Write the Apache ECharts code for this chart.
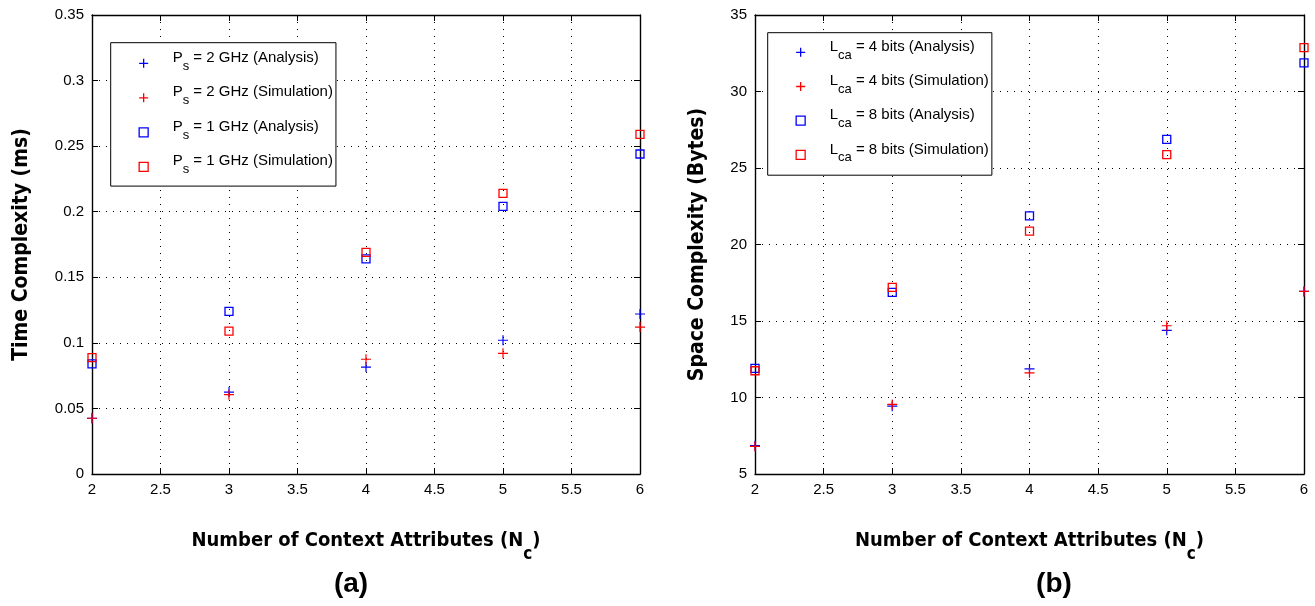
<!DOCTYPE html>
<html>
<head>
<meta charset="utf-8">
<script src="https://cdn.jsdelivr.net/npm/echarts@6/dist/echarts.min.js"></script>
<style>
  html, body { margin: 0; padding: 0; background: #fff; }
  #chart { width: 1315px; height: 606px; }
</style>
</head>
<body>
<div id="chart"></div>
<script>
// Horizontal axis: number of context attributes N_c
const contextAttributes = [2, 3, 4, 5, 6];
const xTicks = [2, 2.5, 3, 3.5, 4, 4.5, 5, 5.5, 6];

// (a) Time complexity in ms
const timeTicks = [0, 0.05, 0.1, 0.15, 0.2, 0.25, 0.3, 0.35];
const time2GhzAnalysis = [0.0425, 0.0625, 0.0815, 0.102, 0.122];
const time2GhzSimulation = [0.0425, 0.0605, 0.0875, 0.092, 0.112];
const time1GhzAnalysis = [0.084, 0.124, 0.164, 0.204, 0.244];
const time1GhzSimulation = [0.0888, 0.109, 0.169, 0.214, 0.259];
const timeNames = [
  'P_s = 2 GHz (Analysis)',
  'P_s = 2 GHz (Simulation)',
  'P_s = 1 GHz (Analysis)',
  'P_s = 1 GHz (Simulation)'
];

// (b) Space complexity in bytes
const spaceTicks = [5, 10, 15, 20, 25, 30, 35];
const space4BitsAnalysis = [6.85, 9.43, 11.87, 14.39, 16.93];
const space4BitsSimulation = [6.8, 9.55, 11.61, 14.69, 16.93];
const space8BitsAnalysis = [11.9, 16.87, 21.87, 26.87, 31.87];
const space8BitsSimulation = [11.75, 17.2, 20.87, 25.87, 32.87];
const spaceNames = [
  'L_ca = 4 bits (Analysis)',
  'L_ca = 4 bits (Simulation)',
  'L_ca = 8 bits (Analysis)',
  'L_ca = 8 bits (Simulation)'
];

const FONT = "'Liberation Sans', Arial, Helvetica, sans-serif";
const NARROW = "'Liberation Sans Narrow', 'DejaVu Sans Condensed', 'Liberation Sans', sans-serif";
const BLUE = '#0000ff';
const RED = '#ff0000';
const PLUS = 'path://M0,5L10,5M5,0L5,10';

function pairs(ys) {
  return contextAttributes.map((x, i) => [x, ys[i]]);
}

function baseAxis(ticks, gridIndex, position, showLabels) {
  return {
    type: 'value',
    gridIndex: gridIndex,
    position: position,
    min: ticks[0],
    max: ticks[ticks.length - 1],
    interval: ticks[1] - ticks[0],
    axisLine: { show: true, onZero: false, lineStyle: { color: '#000', width: 1.4 } },
    axisTick: { show: true, inside: true, length: 6, lineStyle: { color: '#000', width: 1 } },
    axisLabel: { show: showLabels, color: '#000', fontFamily: FONT, fontSize: 15, margin: showLabels ? 8 : 0 },
    splitLine: showLabels
      ? { show: true, lineStyle: { color: '#000', width: 1, type: [1, 6] } }
      : { show: false }
  };
}

function xTitle() {
  return {
    name: '{m|Number of Context Attributes (N}{s|c}{m|)}',
    nameLocation: 'middle',
    nameGap: 64,
    nameTextStyle: {
      rich: {
        m: { fontFamily: NARROW, fontWeight: 'bold', fontSize: 20, color: '#000', lineHeight: 20, padding: [3, 0, 17, 0] },
        s: { fontFamily: NARROW, fontWeight: 'bold', fontSize: 17, color: '#000', lineHeight: 17, padding: [18.4, 0, 4.6, 0] }
      }
    }
  };
}

function yTitle(text, gap) {
  return {
    name: text,
    nameLocation: 'middle',
    nameGap: gap,
    nameTextStyle: { fontFamily: NARROW, fontWeight: 'bold', fontSize: 21, lineHeight: 24, color: '#000' }
  };
}

function legendText(name) {
  const u = name.indexOf('_');
  const sp = name.indexOf(' ');
  return '{m0|' + name.slice(0, u) + '}{s|' + name.slice(u + 1, sp) + '}{m|' + name.slice(sp) + '}';
}

const legendRich = {
  m0: { fontFamily: FONT, fontSize: 15, color: '#000', lineHeight: 15, padding: [1, 0, 12, 19.5] },
  m: { fontFamily: FONT, fontSize: 15, color: '#000', lineHeight: 15, padding: [1, 0, 12, 0] },
  s: { fontFamily: FONT, fontSize: 13, color: '#000', lineHeight: 13, padding: [10.5, 0, 4.5, 0] }
};

function legend(names, left, top, padding, gap) {
  return {
    data: names,
    left: left,
    top: top,
    orient: 'vertical',
    itemWidth: 9,
    itemHeight: 9,
    itemGap: gap,
    padding: padding,
    borderColor: '#000',
    borderWidth: 1,
    backgroundColor: '#fff',
    selectedMode: false,
    itemStyle: { borderWidth: 1.3 },
    formatter: legendText,
    textStyle: { rich: legendRich }
  };
}

function scatter(name, ys, color, symbol, axisIndex) {
  const isPlus = symbol === PLUS;
  return {
    type: 'scatter',
    name: name,
    xAxisIndex: axisIndex,
    yAxisIndex: axisIndex,
    data: pairs(ys),
    symbol: symbol,
    symbolSize: isPlus ? 10 : 8,
    clip: false,
    itemStyle: { color: 'transparent', borderColor: color, borderWidth: isPlus ? 1.2 : 1.3, opacity: 1 },
    emphasis: { disabled: true },
    animation: false
  };
}

const chart = echarts.init(document.getElementById('chart'), null, { renderer: 'canvas' });

chart.setOption({
  backgroundColor: '#fff',
  animation: false,
  grid: [
    { left: 92, top: 15, width: 548, height: 459 },
    { left: 755, top: 15, width: 549, height: 459 }
  ],
  xAxis: [
    Object.assign(baseAxis(xTicks, 0, 'bottom', true), xTitle()),
    baseAxis(xTicks, 0, 'top', false),
    Object.assign(baseAxis(xTicks, 1, 'bottom', true), xTitle()),
    baseAxis(xTicks, 1, 'top', false)
  ],
  yAxis: [
    Object.assign(baseAxis(timeTicks, 0, 'left', true), yTitle('Time Complexity (ms)', 58.5)),
    baseAxis(timeTicks, 0, 'right', false),
    Object.assign(baseAxis(spaceTicks, 1, 'left', true), yTitle('Space Complexity (Bytes)', 45)),
    baseAxis(spaceTicks, 1, 'right', false)
  ],
  legend: [
    legend(timeNames, 110.7, 42.7, [6.6, 3, 5.3, 27.8], 6.5),
    legend(spaceNames, 767.7, 32.7, [5.6, 3, 6.3, 27.8], 6.2)
  ],
  graphic: [
    { type: 'text', x: 351, y: 584, style: { text: '(a)', align: 'center', verticalAlign: 'middle', font: 'bold 28px ' + FONT, fill: '#000' } },
    { type: 'text', x: 1054, y: 584, style: { text: '(b)', align: 'center', verticalAlign: 'middle', font: 'bold 28px ' + FONT, fill: '#000' } }
  ],
  series: [
    scatter(timeNames[0], time2GhzAnalysis, BLUE, PLUS, 0),
    scatter(timeNames[1], time2GhzSimulation, RED, PLUS, 0),
    scatter(timeNames[2], time1GhzAnalysis, BLUE, 'rect', 0),
    scatter(timeNames[3], time1GhzSimulation, RED, 'rect', 0),
    scatter(spaceNames[0], space4BitsAnalysis, BLUE, PLUS, 2),
    scatter(spaceNames[1], space4BitsSimulation, RED, PLUS, 2),
    scatter(spaceNames[2], space8BitsAnalysis, BLUE, 'rect', 2),
    scatter(spaceNames[3], space8BitsSimulation, RED, 'rect', 2)
  ]
});
</script>
</body>
</html>
